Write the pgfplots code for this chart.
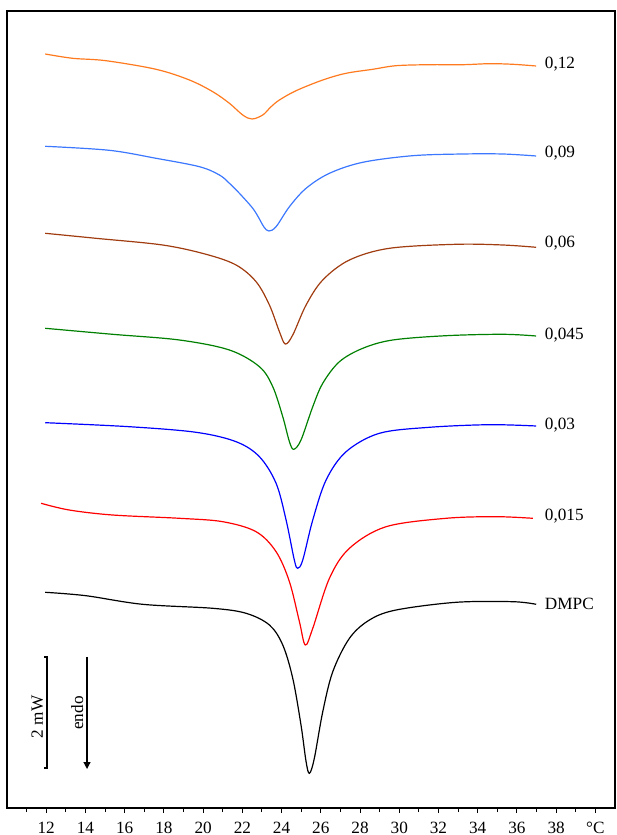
\documentclass[border=0pt]{standalone}
\usepackage{fontspec}
\setmainfont{Liberation Serif}
\usepackage{pgfplots}
\pgfplotsset{compat=1.18}
\usetikzlibrary{arrows.meta}
\definecolor{corange}{RGB}{255,122,30}
\definecolor{clblue}{RGB}{60,120,255}
\definecolor{cbrown}{RGB}{160,60,15}
\definecolor{cgreen}{RGB}{0,128,0}
\definecolor{cblue}{RGB}{0,0,255}
\definecolor{cred}{RGB}{255,0,0}
\begin{document}
\begin{tikzpicture}[font=\fontsize{8.6}{10}\selectfont]
\begin{axis}[
  width=304pt, height=398.5pt, scale only axis,
  xmin=10, xmax=41, ymin=27, ymax=824,
  axis line style={line width=0.8pt},
  xtick={12,14,...,40},
  xticklabels={12,14,16,18,20,22,24,26,28,30,32,34,36,38,°C},
  minor xtick={11,13,...,39},
  xtick pos=bottom, tick align=outside,
  major tick length=2.5pt, minor tick length=2pt,
  tick style={black, line width=0.5pt},
  xticklabel style={yshift=-1.2pt},
  ytick=\empty,
  /pgf/number format/assume math mode=true,
  every axis plot/.append style={line width=0.6pt, smooth, tension=0.55},
  clip=false,
]
% 0,12
\addplot[corange] coordinates {
(11.95,781) (13.34,776.7) (15.04,774.3) (17.6,765.7) (19.3,755) (20.49,743.3) (21.34,731.7) (22.02,720) (22.49,716) (23.04,720) (23.45,728) (23.89,735) (24.74,744.3) (26.1,755) (27.29,761.7) (28.65,765.7) (29.84,769.3) (31.54,770.3) (33.24,770.3) (34.6,771.3) (35.79,770.7) (36.98,769)};
% 0,09
\addplot[clblue] coordinates {
(11.95,688.7) (15.21,684.7) (17.6,676.7) (19.81,668.3) (20.83,660) (21.34,651.7) (21.85,641.7) (22.53,626.7) (22.87,616) (23.1,608) (23.35,604) (23.72,608.3) (24.4,628.3) (25.25,646.7) (26.44,661.7) (28.14,672.7) (30.69,679.3) (33.24,681) (35.28,681) (36.98,679)};
% 0,06
\addplot[cbrown] coordinates {
(11.95,601.7) (14.53,596.7) (17.93,590) (20.15,580.7) (21.68,570) (22.7,553.3) (23.38,530) (23.89,503.3) (24.19,491) (24.57,500) (25.25,530) (26.1,555) (27.46,575) (29.5,586.7) (32.9,590.7) (35.28,590) (36.98,587.7)};
% 0,045
\addplot[cgreen] coordinates {
(11.95,506.7) (15.38,500.7) (18.79,495) (21.34,485) (22.87,468.3) (23.55,448.3) (24.06,418.3) (24.4,393.3) (24.62,385.7) (24.99,395) (25.59,428.3) (26.1,451.7) (26.95,473.3) (28.14,486.7) (29.67,495) (32.39,499.3) (35.28,500.7) (36.98,499)};
% 0,03
\addplot[cblue] coordinates {
(11.95,412.3) (16.23,408.3) (19.64,402.7) (21.68,393.3) (22.87,378.3) (23.72,351.7) (24.23,315) (24.65,275) (24.82,266.7) (25.08,275) (25.59,315) (26.27,355) (27.29,383.3) (28.99,401.7) (31.54,407.7) (34.6,410.3) (36.98,409)};
% 0,015
\addplot[cred] coordinates {
(11.74,331.7) (13.17,325) (15.38,320) (18.79,316.7) (21.0,313.3) (22.7,303.3) (23.72,283.3) (24.4,253.3) (24.91,213.3) (25.21,190) (25.59,206.7) (26.44,256.7) (27.46,286.7) (29.33,308.3) (32.39,316.7) (34.94,318.3) (36.81,316.7)};
% DMPC
\addplot[black] coordinates {
(11.95,242.7) (14.02,239.3) (16.91,230.7) (20.49,226.7) (22.19,221.7) (23.38,210) (24.06,190) (24.57,156.7) (24.99,110) (25.25,73.3) (25.42,61.7) (25.67,76.7) (26.1,123.3) (26.61,163.3) (27.46,196.7) (28.48,215) (29.84,225) (32.9,232.7) (35.79,233.3) (36.98,230.7)};
% labels
\node[anchor=west, inner sep=0pt] at (axis cs:37.41,771) {0,12};
\node[anchor=west, inner sep=0pt] at (axis cs:37.41,682) {0,09};
\node[anchor=west, inner sep=0pt] at (axis cs:37.41,592) {0,06};
\node[anchor=west, inner sep=0pt] at (axis cs:37.41,500) {0,045};
\node[anchor=west, inner sep=0pt] at (axis cs:37.41,410) {0,03};
\node[anchor=west, inner sep=0pt] at (axis cs:37.41,319) {0,015};
\node[anchor=west, inner sep=0pt] at (axis cs:37.41,231) {DMPC};
% scale bar
\draw[line width=0.6pt] (axis cs:11.9,178) -- (axis cs:12.04,178) -- (axis cs:12.04,67) -- (axis cs:11.9,67);
\node[rotate=90, inner sep=0pt] at (axis cs:11.54,118) {2 mW};
\draw[line width=0.6pt, -{Triangle[length=3.5pt,width=3.5pt]}] (axis cs:14.08,178) -- (axis cs:14.08,66);
\node[rotate=90, inner sep=0pt] at (axis cs:13.58,122) {endo};
\end{axis}
\pgfresetboundingbox
\useasboundingbox ([xshift=-3.5pt,yshift=5.5pt]current axis.north west) rectangle ([xshift=1pt,yshift=-13.5pt]current axis.south east);
\end{tikzpicture}
\end{document}
